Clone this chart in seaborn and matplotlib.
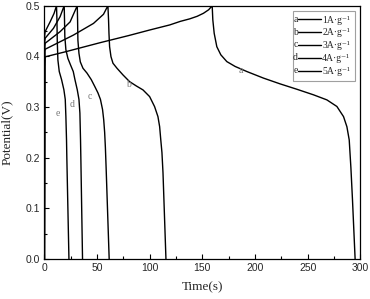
import numpy as np
import pandas as pd
import matplotlib.pyplot as plt
import seaborn as sns
from matplotlib.lines import Line2D
from matplotlib.ticker import MultipleLocator

# galvanostatic charge/discharge curves
t_a = [0, 0.3, 0.7, 20, 53, 80, 100, 119, 129, 138, 145, 151, 156, 159.3,
       159.9, 161.2, 163.7, 167.5, 173.2, 181.1, 192.2, 208, 223.8, 239.7, 255.5,
       268.2, 277.7, 284, 287.2, 289.4, 291, 292.5, 295]
v_a = [0, 0.38, 0.399, 0.409, 0.427, 0.441, 0.452, 0.462, 0.469, 0.474, 0.479, 0.485, 0.492, 0.5,
       0.472, 0.4455, 0.419, 0.403, 0.3896, 0.380, 0.370, 0.357, 0.3456, 0.335, 0.324,
       0.314, 0.301, 0.281, 0.261, 0.235, 0.18, 0.117, 0]

t_b = [0, 0.2, 0.7, 27.6, 46.6, 56.1, 60.3,
       60.9, 61.3, 61.9, 63.2, 65.1, 68.9, 74.6, 80.9, 87.2, 93.6, 99.9, 104.6,
       107.8, 109.4, 110.5, 111.6, 112.6, 115.4]
v_b = [0, 0.41, 0.414, 0.442, 0.465, 0.483, 0.5,
       0.472, 0.4455, 0.419, 0.3994, 0.3864, 0.3765, 0.3633, 0.350, 0.3416, 0.3337, 0.3205, 0.3008,
       0.281, 0.2613, 0.235, 0.21, 0.17, 0]

t_c = [0, 0.2, 0.7, 14.9, 24.4, 31.2,
       31.5, 31.8, 32.8, 34.1, 36.6, 40.4, 44.5, 47.7, 50.8, 53.2, 55.2, 56.3, 57.2, 57.9, 58.6, 61.5]
v_c = [0, 0.42, 0.4258, 0.4487, 0.468, 0.5,
       0.472, 0.432, 0.406, 0.389, 0.3765, 0.367, 0.354, 0.341, 0.328, 0.315, 0.295, 0.275, 0.25, 0.22, 0.18, 0]

t_d = [0, 0.2, 0.7, 8.6, 14.9, 18.8,
       19.1, 19.4, 20.4, 22.3, 24.8, 27.4, 29.0, 31.2, 32.8, 33.7, 34.3, 34.6, 36.2]
v_d = [0, 0.43, 0.4357, 0.4553, 0.4783, 0.5,
       0.472, 0.439, 0.413, 0.396, 0.383, 0.370, 0.354, 0.334, 0.315, 0.288, 0.235, 0.2, 0]

t_e = [0, 0.2, 0.7, 5.4, 9.2, 11.5,
       11.9, 12.2, 12.8, 14.1, 16.3, 18.5, 19.8, 20.4, 21.0, 21.3, 23.3]
v_e = [0, 0.44, 0.4488, 0.468, 0.4849, 0.5,
       0.472, 0.432, 0.393, 0.370, 0.354, 0.334, 0.315, 0.281, 0.235, 0.2, 0]

letters = ['a', 'b', 'c', 'd', 'e']
currents = ['1A·g⁻¹', '2A·g⁻¹', '3A·g⁻¹', '4A·g⁻¹', '5A·g⁻¹']
label_t = [186.8, 80.1, 43.4, 26.6, 12.7]
label_v = [0.373, 0.3436, 0.3205, 0.304, 0.2864]

sns.set_style("ticks")
plt.rcParams['font.family'] = ['Liberation Serif', 'DejaVu Serif']

fig = plt.figure(figsize=(3.7, 2.99), dpi=100)
ax = fig.add_axes([0.12, 0.134, 0.854, 0.847])

curves = [(t_a, v_a), (t_b, v_b), (t_c, v_c), (t_d, v_d), (t_e, v_e)]
for t, v in curves:
    df = pd.DataFrame({'time': t, 'potential': v})
    sns.lineplot(data=df, x='time', y='potential', sort=False, estimator=None,
                 color='black', linewidth=1.0, ax=ax)

for lt, lv, s in zip(label_t, label_v, letters):
    ax.text(lt, lv, s, fontsize=7, color='#777777', ha='center', va='center')

ax.set_xlim(0, 300)
ax.set_ylim(0, 0.5)
ax.xaxis.set_major_locator(MultipleLocator(50))
ax.xaxis.set_minor_locator(MultipleLocator(25))
ax.yaxis.set_major_locator(MultipleLocator(0.1))
ax.yaxis.set_minor_locator(MultipleLocator(0.05))
ax.tick_params(which='both', direction='in', top=False, right=False, width=0.8, color='black')
ax.tick_params(which='major', length=3.5, pad=3)
ax.tick_params(which='minor', length=2)
ax.yaxis.set_major_formatter(plt.FuncFormatter(lambda v, p: f'{v:.1f}'))
for lab in ax.get_xticklabels() + ax.get_yticklabels():
    lab.set_fontfamily('Liberation Sans')
    lab.set_fontsize(7.5)
for sp in ax.spines.values():
    sp.set_visible(True)
    sp.set_linewidth(0.9)
    sp.set_color('black')

ax.set_xlabel('Time(s)', fontsize=9.5, labelpad=6)
ax.set_ylabel('Potential(V)', fontsize=9.5, labelpad=9)

handles = [Line2D([], [], color='black', linewidth=1.0) for _ in currents]
leg = ax.legend(handles, currents, loc='upper right', bbox_to_anchor=(0.983, 0.98),
                prop={'family': ['Liberation Serif', 'DejaVu Serif'], 'size': 7},
                frameon=True, fancybox=False, edgecolor='#888888',
                handlelength=2.3, handletextpad=0.15, labelspacing=0.4,
                borderpad=0.5, borderaxespad=0.0)
leg.get_frame().set_linewidth(0.8)

fig.canvas.draw()
renderer = fig.canvas.get_renderer()
# widen the frame and put the letter in front of each handle
fb = leg.get_frame().get_bbox()
pad = 6
leg.get_frame().set_bounds(fb.x0 - pad, fb.y0, fb.width + pad, fb.height)
for h, s in zip(leg.legend_handles, letters):
    bb = h.get_window_extent(renderer)
    fig.text(bb.x0 - 0.5, (bb.y0 + bb.y1) / 2, s, transform=None, fontsize=7,
             ha='right', va='center', family='Liberation Serif')

fig.savefig('out.png', dpi=100)
